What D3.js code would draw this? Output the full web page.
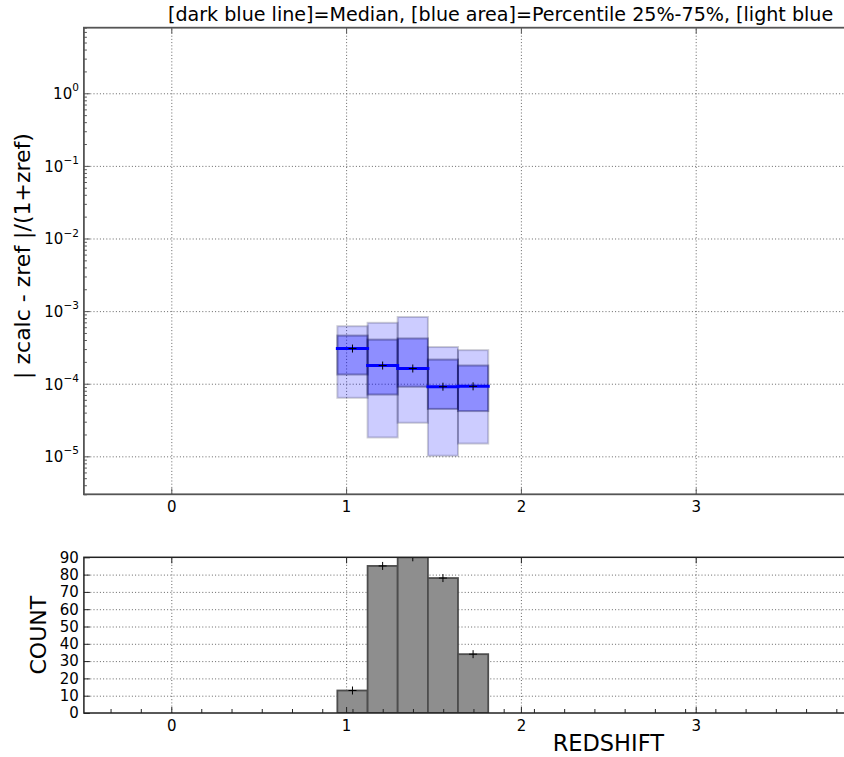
<!DOCTYPE html>
<html>
<head>
<meta charset="utf-8">
<script src="https://cdn.jsdelivr.net/npm/d3@7"></script>
<style>
  html, body { margin: 0; padding: 0; background: #fff; overflow: hidden; }
  svg { display: block; font-family: "DejaVu Sans", sans-serif; }
</style>
</head>
<body>
<svg id="chart" width="844" height="757"></svg>
<script>
// Redshift bins (edges) and per-bin statistics of |zcalc - zref|/(1+zref)
const binEdges = [0.950, 1.123, 1.295, 1.468, 1.640, 1.813];
const counts   = [13, 85, 90, 78, 34];
const median   = [3.05e-4, 1.78e-4, 1.62e-4, 9.1e-5, 9.2e-5];
const p25      = [1.34e-4, 7.1e-5, 9.1e-5, 4.5e-5, 4.2e-5];
const p75      = [4.6e-4, 4.05e-4, 4.2e-4, 2.15e-4, 1.78e-4];
const p05      = [6.4e-5, 1.82e-5, 2.9e-5, 1.02e-5, 1.5e-5];
const p95      = [6.2e-4, 6.9e-4, 8.3e-4, 3.2e-4, 2.9e-4];

const xGrid      = [0, 1, 2, 3, 4, 5];
const xLabels    = [0, 1, 2, 3];
const decadeExps = [-5, -4, -3, -2, -1, 0];
const countTicks = [0, 10, 20, 30, 40, 50, 60, 70, 80, 90];

const titleText = "[dark blue line]=Median, [blue area]=Percentile 25%-75%, [light blue";
const yLabelTop = "| zcalc - zref |/(1+zref)";
const yLabelBottom = "COUNT";
const xLabel = "REDSHIFT";

const bins = counts.map((c, i) => ({
  x0: binEdges[i], x1: binEdges[i + 1], xc: (binEdges[i] + binEdges[i + 1]) / 2,
  count: c, med: median[i], q1: p25[i], q3: p75[i], lo: p05[i], hi: p95[i]
}));
const binWidth = binEdges[1] - binEdges[0];

const svg = d3.select("#chart");
const left = 83.9, right = 1132.7;
const topA = { top: 27.7, bottom: 494.3 };
const botA = { top: 557.3, bottom: 713 };

const x  = d3.scaleLinear().domain([-0.5, 5.5]).range([left, right]);
const y  = d3.scaleLog().domain([3e-6, 8]).range([topA.bottom, topA.top]);
const yc = d3.scaleLinear().domain([0, 90]).range([botA.bottom, botA.top]);

const defs = svg.append("defs");
[["clipTop", topA], ["clipBot", botA]].forEach(([id, a]) => {
  defs.append("clipPath").attr("id", id).append("rect")
    .attr("x", left).attr("y", a.top).attr("width", right - left).attr("height", a.bottom - a.top);
});

const gridStyle = g => g.selectAll("line")
  .attr("stroke", "#555").attr("stroke-width", 0.9).attr("stroke-dasharray", "1,2.2");
const clean = g => { g.select(".domain").remove(); };
const tickStyle = (g, c) => g.selectAll(".tick line").attr("stroke", c).attr("stroke-width", 1);
const labelStyle = g => g.selectAll("text").attr("font-size", 15).attr("fill", "#000")
  .attr("font-family", "DejaVu Sans");

// ---------- upper panel ----------
const upper = svg.append("g");
upper.append("g").attr("transform", `translate(0,${topA.bottom})`)
  .call(d3.axisBottom(x).tickValues(xGrid).tickSize(-(topA.bottom - topA.top)).tickFormat(""))
  .call(clean).call(gridStyle);
upper.append("g").attr("transform", `translate(${left},0)`)
  .call(d3.axisLeft(y).tickValues(decadeExps.map(e => Math.pow(10, e))).tickSize(-(right - left)).tickFormat(""))
  .call(clean).call(gridStyle);

const plotUpper = upper.append("g").attr("clip-path", "url(#clipTop)");
// 5%-95% boxes
plotUpper.selectAll("rect.outer").data(bins).join("rect").attr("class", "outer")
  .attr("x", d => x(d.x0)).attr("width", d => x(d.x1) - x(d.x0))
  .attr("y", d => y(d.hi)).attr("height", d => y(d.lo) - y(d.hi))
  .attr("fill", "rgba(0,0,255,0.2)").attr("stroke", "rgba(0,0,40,0.2)").attr("stroke-width", 2);
// 25%-75% boxes
plotUpper.selectAll("rect.inner").data(bins).join("rect").attr("class", "inner")
  .attr("x", d => x(d.x0)).attr("width", d => x(d.x1) - x(d.x0))
  .attr("y", d => y(d.q3)).attr("height", d => y(d.q1) - y(d.q3))
  .attr("fill", "rgba(0,0,255,0.3)").attr("stroke", "rgba(0,0,60,0.35)").attr("stroke-width", 2);
// median segments
plotUpper.selectAll("line.med").data(bins).join("line").attr("class", "med")
  .attr("x1", d => x(d.x0)).attr("x2", d => x(d.x1))
  .attr("y1", d => y(d.med)).attr("y2", d => y(d.med))
  .attr("stroke", "#0000ff").attr("stroke-width", 3).attr("stroke-linecap", "square");
// median markers
const plus = "M-4,0H4M0,-4V4";
plotUpper.selectAll("path.pm").data(bins).join("path").attr("class", "pm")
  .attr("d", plus).attr("transform", d => `translate(${x(d.xc)},${y(d.med)})`)
  .attr("stroke", "#000").attr("stroke-width", 1).attr("fill", "none");

const upperSpine = "#555";
const xb = upper.append("g").attr("transform", `translate(0,${topA.bottom})`)
  .call(d3.axisBottom(x).tickValues(xLabels).tickSize(-6).tickPadding(7).tickFormat(d3.format("d")))
  .call(clean);
tickStyle(xb, upperSpine);
labelStyle(xb);
upper.append("g").attr("transform", `translate(0,${topA.top})`)
  .call(d3.axisTop(x).tickValues(xLabels).tickSize(-6).tickFormat(""))
  .call(clean).call(g => tickStyle(g, upperSpine));

// log y ticks: minors then decades with superscript labels
const [yMin, yMax] = y.domain();
const minors = [];
for (let e = -6; e <= 0; e++) for (let m = 2; m <= 9; m++) {
  const v = m * Math.pow(10, e);
  if (v >= yMin && v <= yMax) minors.push(v);
}
upper.append("g").attr("transform", `translate(${left},0)`)
  .call(d3.axisLeft(y).tickValues(minors).tickSize(-3).tickFormat(""))
  .call(clean).call(g => tickStyle(g, upperSpine));
const yl = upper.append("g").attr("transform", `translate(${left},0)`)
  .call(d3.axisLeft(y).tickValues(decadeExps.map(e => Math.pow(10, e))).tickSize(-6).tickFormat(""))
  .call(clean);
tickStyle(yl, upperSpine);
yl.selectAll(".tick").each(function(d) {
  const e = Math.round(Math.log10(d));
  const t = d3.select(this).append("text")
    .attr("x", -5).attr("y", 0).attr("dy", "0.36em")
    .attr("text-anchor", "end").attr("font-size", 15).attr("fill", "#000")
    .attr("font-family", "DejaVu Sans");
  t.append("tspan").text("10");
  t.append("tspan").attr("font-size", 10.5).attr("dy", "-0.75em")
    .text(e < 0 ? "\u2212" + Math.abs(e) : String(e));
});

upper.append("rect").attr("x", left).attr("y", topA.top)
  .attr("width", right - left).attr("height", topA.bottom - topA.top)
  .attr("fill", "none").attr("stroke", upperSpine).attr("stroke-width", 1.8);

svg.append("text").attr("x", 168).attr("y", 21)
  .attr("font-size", 19.1).attr("fill", "#000").text(titleText);
svg.append("text").attr("transform", `translate(30,${(topA.top + topA.bottom) / 2 - 5}) rotate(-90)`)
  .attr("text-anchor", "middle").attr("font-size", 22).attr("fill", "#000").text(yLabelTop);

// ---------- lower panel (counts) ----------
const lower = svg.append("g");
const lowerSpine = "#222";
lower.append("g").attr("transform", `translate(0,${botA.bottom})`)
  .call(d3.axisBottom(x).tickValues(xGrid).tickSize(-(botA.bottom - botA.top)).tickFormat(""))
  .call(clean).call(gridStyle);
lower.append("g").attr("transform", `translate(${left},0)`)
  .call(d3.axisLeft(yc).tickValues(countTicks.slice(1, -1)).tickSize(-(right - left)).tickFormat(""))
  .call(clean).call(gridStyle);

const plotLower = lower.append("g").attr("clip-path", "url(#clipBot)");
plotLower.selectAll("rect.bar").data(bins).join("rect").attr("class", "bar")
  .attr("x", d => x(d.x0)).attr("width", d => x(d.x1) - x(d.x0))
  .attr("y", d => yc(d.count)).attr("height", d => yc(0) - yc(d.count))
  .attr("fill", "#8e8e8e").attr("stroke", "#4d4d4d").attr("stroke-width", 1.8);
plotLower.selectAll("path.pc").data(bins).join("path").attr("class", "pc")
  .attr("d", plus).attr("transform", d => `translate(${x(d.xc)},${yc(d.count)})`)
  .attr("stroke", "#000").attr("stroke-width", 1).attr("fill", "none");

// minor ticks at bin-centre spacing across the whole axis
const c0 = bins[0].xc;
const binTicks = d3.range(-10, 30).map(k => c0 + k * binWidth)
  .filter(v => v > -0.5 && v < 5.5 && Math.abs(v - Math.round(v)) > 0.02);
lower.append("g").attr("transform", `translate(0,${botA.bottom})`)
  .call(d3.axisBottom(x).tickValues(binTicks).tickSize(-4).tickFormat(""))
  .call(clean).call(g => tickStyle(g, lowerSpine));
const xb2 = lower.append("g").attr("transform", `translate(0,${botA.bottom})`)
  .call(d3.axisBottom(x).tickValues(xLabels).tickSize(-6).tickPadding(7).tickFormat(d3.format("d")))
  .call(clean);
tickStyle(xb2, lowerSpine);
labelStyle(xb2);
lower.append("g").attr("transform", `translate(0,${botA.top})`)
  .call(d3.axisTop(x).tickValues(xLabels).tickSize(-6).tickFormat(""))
  .call(clean).call(g => tickStyle(g, lowerSpine));
const yb = lower.append("g").attr("transform", `translate(${left},0)`)
  .call(d3.axisLeft(yc).tickValues(countTicks).tickSize(-6).tickPadding(5).tickFormat(d3.format("d")))
  .call(clean);
tickStyle(yb, lowerSpine);
labelStyle(yb);

lower.append("rect").attr("x", left).attr("y", botA.top)
  .attr("width", right - left).attr("height", botA.bottom - botA.top)
  .attr("fill", "none").attr("stroke", lowerSpine).attr("stroke-width", 1.5);

svg.append("text").attr("transform", `translate(46,${(botA.top + botA.bottom) / 2}) rotate(-90)`)
  .attr("text-anchor", "middle").attr("font-size", 22).attr("fill", "#000").text(yLabelBottom);
svg.append("text").attr("x", (left + right) / 2).attr("y", 751)
  .attr("text-anchor", "middle").attr("font-size", 22.5).attr("fill", "#000").text(xLabel);
</script>
</body>
</html>
